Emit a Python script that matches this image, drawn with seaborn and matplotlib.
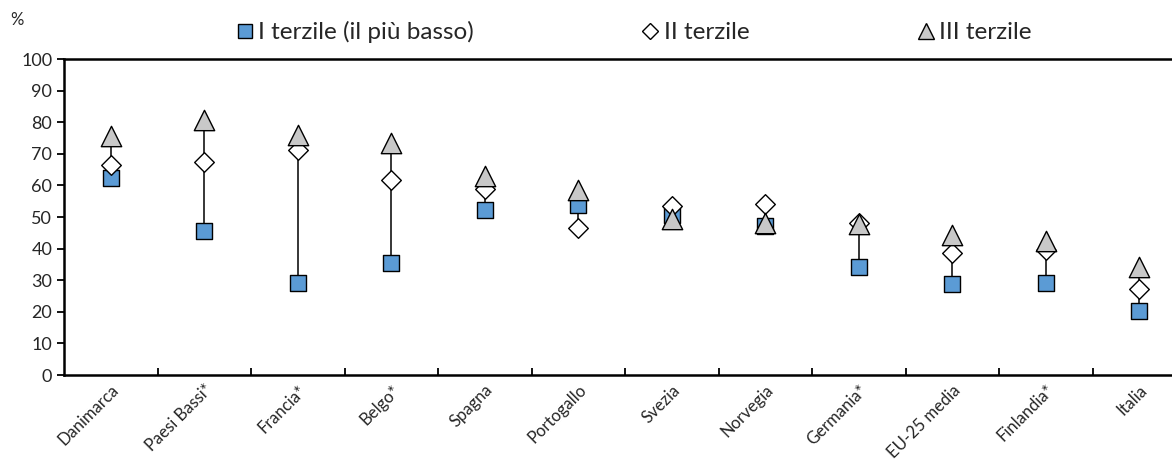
import matplotlib
matplotlib.use("Agg")
import matplotlib.pyplot as plt
from matplotlib.lines import Line2D
import seaborn as sns
import pandas as pd
import numpy as np

categories = ["Danimarca", "Paesi Bassi*", "Francia*", "Belgo*", "Spagna", "Portogallo",
              "Svezia", "Norvegia", "Germania*", "EU-25 media", "Finlandia*", "Italia"]
terzile_1 = [62.5, 45.6, 29.1, 35.6, 52.2, 53.8, 50.5, 47.0, 34.2, 28.8, 29.1, 20.3]
terzile_2 = [66.5, 67.4, 71.2, 61.8, 58.9, 46.5, 53.6, 54.0, 48.2, 38.5, 39.5, 27.3]
terzile_3 = [75.5, 80.7, 76.0, 73.4, 63.0, 58.7, 49.5, 48.0, 47.8, 44.2, 42.5, 34.2]
series_names = ["I terzile (il più basso)", "II terzile", "III terzile"]
y_ticks = [0, 10, 20, 30, 40, 50, 60, 70, 80, 90, 100]

sns.set_theme(style="white")
plt.rcParams["font.family"] = ["Lato", "DejaVu Sans"]

df = pd.DataFrame({"cat": categories, "t1": terzile_1, "t2": terzile_2, "t3": terzile_3})
df["pos"] = np.arange(len(categories))

fig = plt.figure(figsize=(11.72, 4.63), dpi=100)
ax = fig.add_axes([64 / 1172, 88 / 463, 1122 / 1172, 316 / 463])

lo = df[["t1", "t2", "t3"]].min(axis=1)
hi = df[["t1", "t2", "t3"]].max(axis=1)
ax.vlines(df["pos"], lo, hi, color="black", linewidth=1.1, zorder=1)

styles = [
    dict(marker="s", color="#5B9BD5", s=135),
    dict(marker="D", color="white", s=100),
    dict(marker="^", color="#C8C8C8", s=215),
]
for col, st in zip(["t1", "t2", "t3"], styles):
    sns.scatterplot(data=df, x="pos", y=col, ax=ax, marker=st["marker"], color=st["color"],
                    s=st["s"], edgecolor="black", linewidth=1.0, zorder=3, legend=False)

ax.set_xlim(-0.5, len(categories) - 0.5)
ax.set_ylim(0, 100)
ax.set_yticks(y_ticks)
ax.set_yticklabels([str(t) for t in y_ticks], fontsize=13)
ax.set_xticks(df["pos"])
ax.set_xticklabels(categories, rotation=45, ha="right", rotation_mode="anchor", fontsize=12)
ax.set_xticks(np.arange(0.5, len(categories) - 0.5, 1), minor=True)
ax.tick_params(axis="x", which="major", length=0, pad=5)
ax.tick_params(axis="x", which="minor", length=5, width=1.3, direction="in", color="black", bottom=True)
ax.tick_params(axis="y", which="major", length=5, width=1.3, direction="out", color="black", left=True)
ax.set_xlabel("")
ax.set_ylabel("")
for side in ["left", "bottom", "top"]:
    ax.spines[side].set_color("black")
    ax.spines[side].set_linewidth(1.8)
ax.spines["right"].set_visible(False)
ax.grid(False)

handles = [
    Line2D([], [], linestyle="none", marker="s", markersize=10, markerfacecolor="#5B9BD5",
           markeredgecolor="black", markeredgewidth=1.0),
    Line2D([], [], linestyle="none", marker="D", markersize=8, markerfacecolor="white",
           markeredgecolor="black", markeredgewidth=1.0),
    Line2D([], [], linestyle="none", marker="^", markersize=11, markerfacecolor="#C8C8C8",
           markeredgecolor="black", markeredgewidth=1.0),
]
fig.legend(handles, series_names, loc="center", bbox_to_anchor=(634 / 1172, 1 - 32 / 463),
           ncol=3, frameon=False, fontsize=17.5, handlelength=0.7, handletextpad=0.2,
           columnspacing=6.9)

fig.text(10 / 1172, 1 - 20 / 463, "%", fontsize=12, ha="left", va="center")

fig.savefig("out.png", dpi=100)
